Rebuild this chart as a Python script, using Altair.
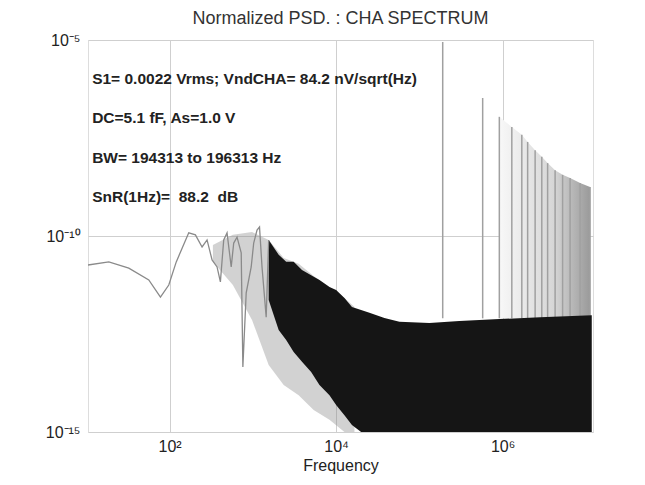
import altair as alt
import pandas as pd

# ---- values (log10 units) ----
# low-frequency trace
LINE_LOGF = [1.02, 1.27, 1.51, 1.75, 1.89, 1.99, 2.08, 2.23, 2.31, 2.39, 2.45, 2.51, 2.57, 2.61,
             2.65, 2.69, 2.74, 2.77, 2.81, 2.86, 2.88, 2.92, 2.98, 3.01, 3.05, 3.08, 3.11, 3.16, 3.19]
LINE_LOGP = [-10.74, -10.66, -10.82, -11.12, -11.56, -11.25, -10.66, -9.92, -9.97, -10.28, -10.10,
             -10.61, -10.79, -11.17, -10.10, -9.92, -10.79, -10.18, -10.03, -10.43, -13.34, -11.45,
             -10.79, -10.18, -9.85, -9.77, -10.79, -12.07, -10.10]

# grey fringe under the noise band
FRINGE_LOGF = [2.52, 2.76, 2.99, 3.19, 3.37, 3.55, 3.73, 3.92, 4.10, 4.22]
FRINGE_TOP = [-10.23, -9.97, -9.90, -10.10, -10.56, -10.71, -11.02, -11.30, -11.58, -11.81]
FRINGE_BOT = [-10.66, -11.25, -12.14, -13.29, -13.80, -14.06, -14.44, -14.69, -15.0, -15.0]

# dense noise band
BAND_LOGF = [3.19, 3.31, 3.40, 3.49, 3.59, 3.70, 3.80, 3.92, 4.00, 4.10, 4.19, 4.30, 4.40,
             4.58, 4.76, 5.12, 5.48, 5.96, 6.45, 7.07]
BAND_TOP = [-10.10, -10.48, -10.66, -10.66, -10.87, -11.00, -11.12, -11.30, -11.38, -11.58,
            -11.81, -11.89, -11.96, -12.09, -12.19, -12.22, -12.17, -12.12, -12.07, -12.02]
BAND_BOT = [-11.63, -12.40, -12.65, -12.96, -13.21, -13.47, -13.80, -14.06, -14.31, -14.57,
            -14.82, -15.0, -15.0, -15.0, -15.0, -15.0, -15.0, -15.0, -15.0, -15.0]

# signal and harmonic spikes
SPIKE_LOGF = [5.28, 5.76, 5.96, 6.11, 6.23, 6.30, 6.39, 6.47, 6.54, 6.63, 6.72, 6.81, 6.93, 7.05]
SPIKE_TOP = [-5.05, -6.48, -6.96, -7.22, -7.42, -7.60, -7.81, -7.98, -8.14, -8.32, -8.44, -8.52,
             -8.65, -8.75]
SPIKE_BASE = -12.1

# annotations
NOTE_LOGF = 1.07
NOTE_LOGP = [-6.0, -7.0, -8.0, -9.0]
NOTES = ["S1= 0.0022 Vrms; VndCHA= 84.2 nV/sqrt(Hz)",
         "DC=5.1 fF, As=1.0 V",
         "BW= 194313 to 196313 Hz",
         "SnR(1Hz)=\u00a0 88.2\u00a0 dB"]

X_TICKS = [2, 4, 6]
X_LABELS = ["10²", "10⁴", "10⁶"]
Y_TICKS = [-15, -10, -5]
Y_LABELS = ["10⁻¹⁵", "10⁻¹⁰", "10⁻⁵"]
X_DOMAIN = [1.02, 7.085]
Y_DOMAIN = [-15, -5]

p = lambda v: 10 ** v

line_df = pd.DataFrame({"f": [p(v) for v in LINE_LOGF], "P": [p(v) for v in LINE_LOGP]})
fringe_df = pd.DataFrame({"f": [p(v) for v in FRINGE_LOGF], "P": [p(v) for v in FRINGE_TOP],
                          "P2": [p(v) for v in FRINGE_BOT]})
band_df = pd.DataFrame({"f": [p(v) for v in BAND_LOGF], "P": [p(v) for v in BAND_TOP],
                        "P2": [p(v) for v in BAND_BOT]})
spike_df = pd.DataFrame({"f": [p(v) for v in SPIKE_LOGF], "P": [p(v) for v in SPIKE_TOP],
                         "P2": [p(SPIKE_BASE)] * len(SPIKE_LOGF)})
haze_df = spike_df[spike_df["f"] >= p(5.9)]
note_df = pd.DataFrame({"f": [p(NOTE_LOGF)] * 4, "P": [p(v) for v in NOTE_LOGP], "t": NOTES})


def expr(ticks, labels):
    parts = [f"abs(log(datum.value)/LN10 - ({t})) < 0.01 ? '{l}'" for t, l in zip(ticks, labels)]
    return " : ".join(parts) + " : ''"


FONT = "Liberation Sans"
xs = alt.Scale(type="log", domain=[p(v) for v in X_DOMAIN], nice=False)
ys = alt.Scale(type="log", domain=[p(v) for v in Y_DOMAIN], nice=False)

X = alt.X("f:Q", scale=xs, title="Frequency",
          axis=alt.Axis(values=[p(v) for v in X_TICKS], labelExpr=expr(X_TICKS, X_LABELS),
                        grid=True, ticks=False, tickSize=0, domain=False, labelPadding=6,
                        labelFontSize=16, titleFontSize=16, titleFontWeight="normal",
                        titlePadding=3, labelFont=FONT, titleFont=FONT,
                        labelColor="#222", titleColor="#222", gridColor="#cfcfcf",
                        labelFlush=False))
Y = alt.Y("P:Q", scale=ys, title=None,
          axis=alt.Axis(values=[p(v) for v in Y_TICKS], labelExpr=expr(Y_TICKS, Y_LABELS),
                        grid=True, ticks=False, tickSize=0, domain=False, labelPadding=8,
                        labelFontSize=16, labelFont=FONT, labelColor="#222",
                        gridColor="#cfcfcf", labelFlush=False))

haze = alt.Chart(haze_df).mark_area(
    clip=True,
    color=alt.Gradient(gradient="linear", x1=0, x2=1, y1=0, y2=0,
                       stops=[alt.GradientStop(color="#f8f8f8", offset=0),
                              alt.GradientStop(color="#d6d6d6", offset=0.6),
                              alt.GradientStop(color="#9a9a9a", offset=1)])
).encode(x=X, y=Y, y2="P2:Q")

spikes = alt.Chart(spike_df).mark_rule(color="#a0a0a0", strokeWidth=1.5, clip=True).encode(
    x=X, y=Y, y2="P2:Q")

fringe = alt.Chart(fringe_df).mark_area(color="#8a8a8a", opacity=0.38, clip=True).encode(
    x=X, y=Y, y2="P2:Q")

band = alt.Chart(band_df).mark_area(color="#151515", clip=True).encode(x=X, y=Y, y2="P2:Q")

line = alt.Chart(line_df).mark_line(color="#8a8a8a", strokeWidth=1.3, clip=True).encode(x=X, y=Y)

notes = alt.Chart(note_df).mark_text(align="left", baseline="middle", font=FONT, fontSize=15.5,
                                     fontWeight="bold", color="#222").encode(
    x=X, y=Y, text="t:N")

chart = alt.layer(haze, spikes, fringe, band, line, notes).properties(
    width=505, height=392,
    title=alt.TitleParams("Normalized PSD. : CHA SPECTRUM", fontSize=18, fontWeight="normal",
                          font=FONT, color="#333", offset=4, anchor="middle"),
    autosize=alt.AutoSizeParams(type="none"),
    padding={"left": 80, "top": 32, "right": 44, "bottom": 45},
).configure_view(stroke="#8a8a8a", strokeWidth=1.5).configure(background="white")

chart.save("out.html", embed_options={"renderer": "svg", "actions": False})
